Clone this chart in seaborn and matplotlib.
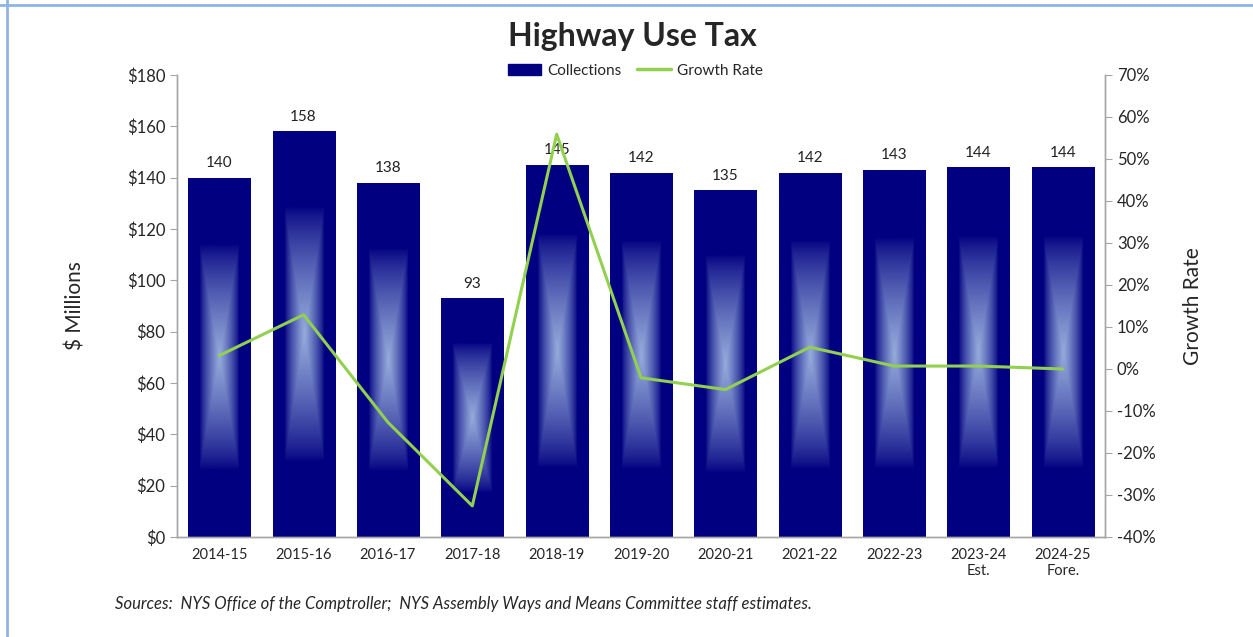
import numpy as np
import pandas as pd
import matplotlib.pyplot as plt
import matplotlib.ticker as mtick
from matplotlib.lines import Line2D
from matplotlib.patches import Patch
import seaborn as sns

years = ['2014-15', '2015-16', '2016-17', '2017-18', '2018-19', '2019-20',
         '2020-21', '2021-22', '2022-23', '2023-24\nEst.', '2024-25\nFore.']
collections = [140, 158, 138, 93, 145, 142, 135, 142, 143, 144, 144]
growth = [3.2, 12.9, -12.7, -32.6, 55.9, -2.1, -4.9, 5.2, 0.7, 0.7, 0.0]

df = pd.DataFrame({'ano': years, 'usd': collections, 'crescimento': growth})

sns.set_style('white')
plt.rcParams['font.family'] = ['Lato', 'DejaVu Sans']

navy = '#000080'
verde = '#92D050'
cinza = '#A6A6A6'

fig = plt.figure(figsize=(12.53, 6.37), dpi=100)
ax = fig.add_axes([0.1413, 0.157, 0.7406, 0.7253])

sns.barplot(data=df, x='ano', y='usd', color=navy, width=0.735,
            saturation=1, ax=ax, zorder=2)

# brilho central tipo gradiente retangular do Excel
n = 200
u = np.linspace(-1, 1, n)
U, V = np.meshgrid(u, u)
r = np.maximum(np.abs(U), np.abs(V))
t = np.clip((0.63 - r) / 0.63, 0, 1) ** 0.75
c0 = np.array([0, 0, 128]) / 255
c1 = np.array([150, 172, 220]) / 255
img = c0 + (c1 - c0) * t[..., None]

for p in ax.patches:
    x0, w, h = p.get_x(), p.get_width(), p.get_height()
    im = ax.imshow(img, extent=[x0, x0 + w, 0, h], aspect='auto',
                   interpolation='bilinear', zorder=2.5)
    im.set_clip_path(p)

for p, v in zip(ax.patches, collections):
    ax.text(p.get_x() + p.get_width() / 2, v + 3, f'{v}', ha='center',
            va='bottom', fontsize=11, color='#222222', zorder=5)

ax.set_xlim(-0.5, len(years) - 0.5)
ax.set_ylim(0, 180)
ax.yaxis.set_major_locator(mtick.MultipleLocator(20))
ax.yaxis.set_major_formatter(mtick.FuncFormatter(lambda v, _: f'${v:.0f}'))
ax.set_xlabel('')
ax.set_ylabel('$ Millions', fontsize=15, labelpad=30)
ax.set_xticks(range(len(years)))
ax.set_xticklabels(years, fontsize=10.5)
ax.set_xticks(np.arange(-0.5, len(years), 1), minor=True)
ax.tick_params(axis='x', which='major', length=0, pad=8)
ax.tick_params(axis='x', which='minor', length=5, color=cinza, direction='out')
ax.tick_params(axis='y', length=5, color=cinza, direction='out', labelsize=12, left=True)

ax2 = ax.twinx()
sns.lineplot(x=np.arange(len(years)), y=growth, color=verde, linewidth=2.2,
             ax=ax2, zorder=4)
ax2.set_ylim(-40, 70)
ax2.yaxis.set_major_locator(mtick.MultipleLocator(10))
ax2.yaxis.set_major_formatter(mtick.FuncFormatter(lambda v, _: f'{v:.0f}%'))
ax2.set_ylabel('Growth Rate', fontsize=15, labelpad=20)
ax2.tick_params(axis='y', length=5, color=cinza, direction='out', labelsize=12, right=True)

for a in (ax, ax2):
    a.spines['top'].set_visible(False)
    for s in ('left', 'right', 'bottom'):
        a.spines[s].set_color(cinza)
        a.spines[s].set_linewidth(1)

handles = [Patch(facecolor=navy, edgecolor=navy, label='Collections'),
           Line2D([0], [0], color=verde, lw=2.5, label='Growth Rate')]
fig.legend(handles=handles, loc='center', bbox_to_anchor=(0.507, 0.889), ncol=2,
           frameon=False, fontsize=11, handlelength=2.2, handleheight=0.8,
           columnspacing=1.0, handletextpad=0.4)

fig.text(0.505, 0.943, 'Highway Use Tax', ha='center', va='center',
         fontsize=23, fontweight='bold')
fig.text(0.092, 0.052, 'Sources:  NYS Office of the Comptroller;  NYS Assembly Ways and Means Committee staff estimates.',
         fontsize=12, style='italic', ha='left', va='center')

fig.add_artist(Line2D([0, 1], [1 - 4.5 / 637] * 2, color='#8EB4E3', lw=2))
fig.add_artist(Line2D([7 / 1253] * 2, [0, 1], color='#8EB4E3', lw=2))

fig.savefig('out.png', dpi=100)
